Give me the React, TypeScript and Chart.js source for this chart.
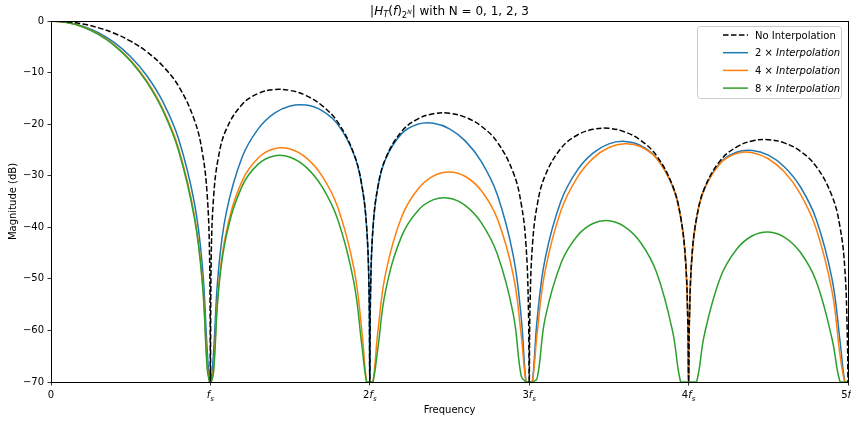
import React, { useEffect, useRef } from 'react';
import { Chart, registerables } from 'chart.js';

Chart.register(...registerables);

// Frequency in multiples of fs (denser near the nulls)
const freq = [
  0, 0.1, 0.2, 0.3, 0.4, 0.5, 0.6, 0.7, 0.8, 0.9, 0.95, 0.98, 0.995,
  1, 1.005, 1.02, 1.05, 1.1, 1.2, 1.3, 1.4, 1.5, 1.6, 1.7, 1.8, 1.9, 1.95, 1.98, 1.995,
  2, 2.005, 2.02, 2.05, 2.1, 2.2, 2.3, 2.4, 2.5, 2.6, 2.7, 2.8, 2.9, 2.95, 2.98, 2.995,
  3, 3.005, 3.02, 3.05, 3.1, 3.2, 3.3, 3.4, 3.5, 3.6, 3.7, 3.8, 3.9, 3.95, 3.98, 3.995,
  4, 4.005, 4.02, 4.05, 4.1, 4.2, 4.3, 4.4, 4.5, 4.6, 4.7, 4.8, 4.9, 4.95, 4.98, 4.995,
  5,
];

const noInterp = [
  0, -0.14, -0.58, -1.33, -2.42, -3.92, -5.94, -8.69, -12.62, -19.23, -25.61, -33.81, -45.98,
  -70, -46.06, -34.16, -26.48, -20.97, -16.14, -14.06, -13.3, -13.47, -14.46, -16.39, -19.66, -25.72, -31.86, -39.92, -52.02,
  -70, -52.06, -40.09, -32.29, -26.59, -21.41, -19.02, -17.98, -17.9, -18.68, -20.41, -23.5, -29.39, -35.45, -43.47, -55.55,
  -70, -55.58, -43.59, -35.74, -29.97, -24.66, -22.15, -21.01, -20.82, -21.51, -23.15, -26.16, -31.97, -37.99, -45.98, -58.05,
  -70, -58.07, -46.07, -38.21, -32.4, -27.02, -24.45, -23.25, -23.01, -23.63, -25.23, -28.18, -33.95, -39.95, -47.93, -59.99,
  -70,
];

const interp2 = [
  0, -0.25, -1.02, -2.33, -4.26, -6.93, -10.56, -15.55, -22.82, -35.34, -47.72, -63.87, -70,
  -70, -70, -64.22, -48.59, -37.09, -26.34, -20.92, -17.92, -16.48, -16.3, -17.4, -20.1, -25.83, -31.88, -39.92, -52.02,
  -70, -52.06, -40.1, -32.32, -26.7, -21.84, -20.02, -19.82, -20.91, -23.29, -27.27, -33.7, -45.51, -57.56, -70, -70,
  -70, -70, -70, -57.85, -46.08, -34.86, -29.01, -25.63, -23.83, -23.35, -24.15, -26.59, -32.07, -38.01, -45.99, -58.05,
  -70, -58.07, -46.07, -38.23, -32.51, -27.46, -25.46, -25.09, -26.02, -28.25, -32.09, -38.39, -50.06, -62.06, -70, -70,
  -70,
];

const interp4 = [
  0, -0.28, -1.12, -2.57, -4.7, -7.62, -11.56, -16.93, -24.66, -37.72, -50.4, -66.74, -70,
  -70, -70, -67.36, -51.95, -40.83, -30.96, -26.56, -24.78, -24.82, -26.5, -30.03, -36.21, -47.93, -60.01, -70, -70,
  -70, -70, -70, -60.44, -48.8, -37.96, -32.66, -30.03, -29.26, -30.15, -32.91, -38.32, -49.25, -60.92, -70, -70,
  -70, -70, -70, -60.53, -48.46, -36.7, -30.4, -26.63, -24.52, -23.78, -24.39, -26.7, -32.1, -38.02, -45.99, -58.05,
  -70, -58.07, -46.08, -38.24, -32.54, -27.57, -25.7, -25.53, -26.71, -29.25, -33.47, -40.23, -52.44, -64.74, -70, -70,
  -70,
];

const interp8 = [
  0, -0.29, -1.15, -2.63, -4.81, -7.79, -11.8, -17.26, -25.1, -38.28, -51.02, -67.4, -70,
  -70, -70, -68.08, -52.71, -41.67, -31.96, -27.75, -26.16, -26.42, -28.34, -32.13, -38.59, -50.62, -62.85, -70, -70,
  -70, -70, -70, -63.62, -52.17, -41.71, -36.82, -34.64, -34.36, -35.79, -39.13, -45.18, -56.82, -68.87, -70, -70,
  -70, -70, -70, -69.3, -57.68, -46.91, -41.72, -39.26, -38.72, -39.9, -42.99, -48.81, -60.22, -70, -70, -70,
  -70, -70, -70, -70, -60.66, -49.68, -44.3, -41.64, -40.9, -41.89, -44.8, -50.43, -61.66, -70, -70, -70,
  -70,
];

const seriesLabels = ['No Interpolation', '2 × Interpolation', '4 × Interpolation', '8 × Interpolation'];
const seriesColors = ['#000000', '#1f77b4', '#ff7f0e', '#2ca02c'];
const xTickValues = [0, 1, 2, 3, 4, 5];
const xTickLabels = ['0', 'fs', '2fs', '3fs', '4fs', '5fs'];
const yTickLabels = ['0', '−10', '−20', '−30', '−40', '−50', '−60', '−70'];
const chartTitle = 'with N = 0, 1, 2, 3';
const xTitle = 'Frequency';
const yTitle = 'Magnitude (dB)';

const FONT = '"DejaVu Sans", sans-serif';

type Part = { text: string; size: number; italic?: boolean; dy?: number };

function drawParts(ctx: CanvasRenderingContext2D, parts: Part[], x: number, baseline: number, align: 'center' | 'left') {
  ctx.textAlign = 'left';
  ctx.textBaseline = 'alphabetic';
  const widths = parts.map((p) => {
    ctx.font = `${p.italic ? 'italic ' : ''}${p.size}px ${FONT}`;
    return ctx.measureText(p.text).width;
  });
  const total = widths.reduce((a, b) => a + b, 0);
  let cx = align === 'center' ? x - total / 2 : x;
  parts.forEach((p, i) => {
    ctx.font = `${p.italic ? 'italic ' : ''}${p.size}px ${FONT}`;
    ctx.fillText(p.text, cx, baseline + (p.dy || 0));
    cx += widths[i];
  });
}

function tickParts(label: string): Part[] {
  const m = label.match(/^(\d*)f(s?)$/);
  if (!m) return [{ text: label, size: 10 }];
  const parts: Part[] = [];
  if (m[1]) parts.push({ text: m[1], size: 10 });
  parts.push({ text: 'f', size: 10, italic: true });
  if (m[2]) parts.push({ text: m[2], size: 7, italic: true, dy: 2.5 });
  return parts;
}

function legendParts(label: string): Part[] {
  const idx = label.indexOf(' × ');
  if (idx < 0) return [{ text: label, size: 10 }];
  return [
    { text: label.slice(0, idx + 3), size: 10 },
    { text: label.slice(idx + 3), size: 10, italic: true },
  ];
}

const decorPlugin = {
  id: 'decor',
  afterDatasetsDraw(chart: any) {
    const ctx: CanvasRenderingContext2D = chart.ctx;
    const { left, right, top, bottom } = chart.chartArea;
    ctx.save();
    ctx.strokeStyle = '#000';
    ctx.lineWidth = 1;
    ctx.setLineDash([]);
    ctx.strokeRect(Math.round(left) + 0.5, Math.round(top) + 0.5, Math.round(right) - Math.round(left), Math.round(bottom) - Math.round(top));

    const xs = chart.scales.x;
    ctx.fillStyle = '#000';
    xTickValues.forEach((v, i) => {
      drawParts(ctx, tickParts(xTickLabels[i]), xs.getPixelForValue(v), 398, 'center');
    });

    const titleParts: Part[] = [
      { text: '|', size: 12 },
      { text: 'H', size: 12, italic: true },
      { text: 'T', size: 8.4, italic: true, dy: 2.2 },
      { text: '(', size: 12 },
      { text: 'f', size: 12, italic: true },
      { text: ')', size: 12 },
      { text: '2', size: 8.4, dy: 2.6 },
      { text: 'N', size: 6, italic: true, dy: -1.2 },
      { text: '|', size: 12 },
      { text: ' ' + chartTitle, size: 12 },
    ];
    drawParts(ctx, titleParts, (left + right) / 2, 15, 'center');

    const lg = { l: 697, t: 26, r: 841, b: 98 };
    ctx.beginPath();
    if ((ctx as any).roundRect) (ctx as any).roundRect(lg.l + 0.5, lg.t + 0.5, lg.r - lg.l, lg.b - lg.t, 3);
    else ctx.rect(lg.l + 0.5, lg.t + 0.5, lg.r - lg.l, lg.b - lg.t);
    ctx.fillStyle = 'rgba(255,255,255,0.8)';
    ctx.fill();
    ctx.strokeStyle = '#cccccc';
    ctx.lineWidth = 1;
    ctx.stroke();
    chart.data.datasets.forEach((ds: any, i: number) => {
      const y = 35 + i * 17.7;
      ctx.beginPath();
      ctx.strokeStyle = ds.borderColor;
      ctx.lineWidth = 1.5;
      ctx.setLineDash(ds.borderDash || []);
      ctx.moveTo(723, y);
      ctx.lineTo(748, y);
      ctx.stroke();
      ctx.setLineDash([]);
      ctx.fillStyle = '#000';
      drawParts(ctx, legendParts(ds.label), 755, y + 3.6, 'left');
    });
    ctx.restore();
  },
};

export default function App() {
  const ref = useRef<HTMLCanvasElement>(null);
  useEffect(() => {
    if (!ref.current) return;
    const series = [noInterp, interp2, interp4, interp8];
    const orders = [0, 3, 2, 1];
    const chart = new Chart(ref.current, {
      type: 'line',
      data: {
        datasets: series.map((vals, i) => ({
          label: seriesLabels[i],
          data: freq.map((f, j) => ({ x: f, y: vals[j] })),
          borderColor: seriesColors[i],
          backgroundColor: seriesColors[i],
          borderWidth: 1.5,
          borderDash: i === 0 ? [5.55, 2.4] : [],
          pointRadius: 0,
          fill: false,
          tension: 0.4,
          order: orders[i],
        })),
      },
      options: {
        animation: false,
        responsive: false,
        devicePixelRatio: 1,
        layout: { padding: { left: 0, top: 21, right: 3, bottom: 0 } },
        plugins: {
          legend: { display: false },
          title: { display: false },
          tooltip: { enabled: false },
        },
        scales: {
          x: {
            type: 'linear',
            min: 0,
            max: 5,
            afterBuildTicks: (s: any) => { s.ticks = xTickValues.map((v) => ({ value: v })); },
            afterFit: (s: any) => { s.height = 40; },
            ticks: { display: false },
            grid: { display: true, drawOnChartArea: false, drawTicks: true, tickLength: 3.5, color: '#000', lineWidth: 0.8 },
            border: { display: false },
            title: { display: true, text: xTitle, color: '#000', font: { family: FONT, size: 10 }, padding: { top: 0, bottom: 6 } },
          },
          y: {
            type: 'linear',
            min: -70,
            max: 0,
            afterFit: (s: any) => { s.width = 51; },
            ticks: {
              stepSize: 10,
              color: '#000',
              padding: 3.5,
              font: { family: FONT, size: 10 },
              callback: (v: any) => yTickLabels[Math.round(-v / 10)],
            },
            grid: { display: true, drawOnChartArea: false, drawTicks: true, tickLength: 3.5, color: '#000', lineWidth: 0.8 },
            border: { display: false },
            title: { display: true, text: yTitle, color: '#000', font: { family: FONT, size: 10 }, padding: { top: 7.5, bottom: 0 } },
          },
        },
      },
      plugins: [decorPlugin],
    } as any);
    return () => chart.destroy();
  }, []);
  return (
    <div style={{ position: 'fixed', left: 0, top: 0, width: 851, height: 422, background: '#fff' }}>
      <canvas ref={ref} width={851} height={422} style={{ width: 851, height: 422, display: 'block' }} />
    </div>
  );
}
